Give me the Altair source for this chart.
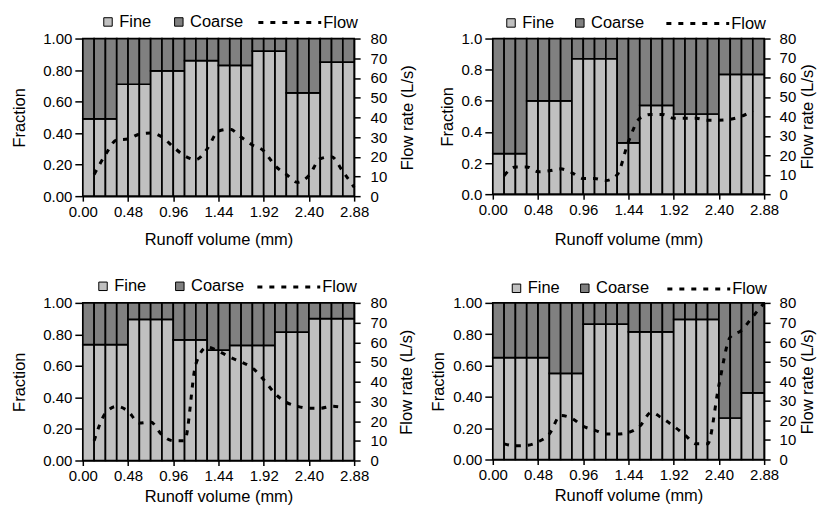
import altair as alt
import pandas as pd

# Bar edges along runoff volume (mm): 24 equal intervals
EDGES = [0.00, 0.12, 0.24, 0.36, 0.48, 0.60, 0.72, 0.84, 0.96, 1.08, 1.20, 1.32,
         1.44, 1.56, 1.68, 1.80, 1.92, 2.04, 2.16, 2.28, 2.40, 2.52, 2.64, 2.76, 2.88]
X_TICKS = [0.00, 0.48, 0.96, 1.44, 1.92, 2.40, 2.88]
FRAC_TICKS = [0.0, 0.2, 0.4, 0.6, 0.8, 1.0]
FLOW_TICKS = [0, 10, 20, 30, 40, 50, 60, 70, 80]
PARTS = ["Fine", "Coarse"]
PART_COLORS = ["#c0c0c0", "#808080"]

# Fine fraction of each bar (coarse = 1 - fine)
FINE_1 = [0.49, 0.49, 0.49, 0.71, 0.71, 0.71, 0.795, 0.795, 0.795, 0.86, 0.86, 0.86,
          0.83, 0.83, 0.83, 0.92, 0.92, 0.92, 0.655, 0.655, 0.655, 0.85, 0.85, 0.85]
FINE_2 = [0.26, 0.26, 0.26, 0.60, 0.60, 0.60, 0.60, 0.87, 0.87, 0.87, 0.87, 0.33,
          0.33, 0.57, 0.57, 0.57, 0.515, 0.515, 0.515, 0.515, 0.77, 0.77, 0.77, 0.77]
FINE_3 = [0.735, 0.735, 0.735, 0.735, 0.895, 0.895, 0.895, 0.895, 0.765, 0.765, 0.765, 0.70,
          0.70, 0.73, 0.73, 0.73, 0.73, 0.815, 0.815, 0.815, 0.90, 0.90, 0.90, 0.90]
FINE_4 = [0.65, 0.65, 0.65, 0.65, 0.65, 0.55, 0.55, 0.55, 0.865, 0.865, 0.865, 0.865,
          0.815, 0.815, 0.815, 0.815, 0.895, 0.895, 0.895, 0.895, 0.265, 0.265, 0.425, 0.425]

# Flow rate (L/s) at the right edge of each bar
FLOW_1 = [11, 21, 28.5, 29, 31.5, 32, 30, 25, 20.5, 18.5, 24, 33,
          34, 30, 26, 23, 15.5, 11, 7, 10.5, 19, 20, 12.5, 4.5]
FLOW_2 = [9.5, 14, 14, 11.5, 12, 13, 11, 8, 8, 7, 10, 27,
          39, 41, 41, 39, 39, 39, 38, 38, 38.5, 40, 43]
FLOW_3 = [10, 24, 27.5, 25, 19, 19.5, 13, 10, 10, 49, 57.5, 55.5,
          52.5, 50, 47, 41, 34, 29.5, 27.5, 26.5, 26.5, 27.5, 27]
FLOW_4 = [8, 7, 7.2, 9, 13, 22.5, 21, 17, 15, 13, 13, 13.8,
          17, 24, 21, 17, 12.5, 8, 8, 38, 62.5, 66, 73, 80]

FONT = "Liberation Sans"


def panel(fine, flow, frac_fmt, h, lpad, rpad, rlab, xpad, lx, ly, fx, cpad):
    rows = []
    for i, f in enumerate(fine):
        rows.append({"x0": EDGES[i], "x1": EDGES[i + 1], "y0": 0.0, "y1": f, "part": "Fine"})
        rows.append({"x0": EDGES[i], "x1": EDGES[i + 1], "y0": f, "y1": 1.0, "part": "Coarse"})
    bars_df = pd.DataFrame(rows)
    flow_df = pd.DataFrame({"x": EDGES[1:1 + len(flow)], "q": flow, "s": "Flow"})
    xscale = alt.Scale(domain=[0, 2.88], nice=False, zero=False)
    xaxis = alt.Axis(values=X_TICKS, format=".2f", title="Runoff volume (mm)",
                     titlePadding=xpad, labelOverlap=False, labelFlush=False,
                     tickSize=5, labelPadding=3)

    bars = alt.Chart(bars_df).mark_rect(stroke="black", strokeWidth=1.7).encode(
        x=alt.X("x0:Q", scale=xscale, axis=xaxis),
        x2="x1:Q",
        y=alt.Y("y0:Q", scale=alt.Scale(domain=[0, 1], nice=False),
                axis=alt.Axis(values=FRAC_TICKS, format=frac_fmt, title="Fraction",
                              orient="left", titlePadding=lpad, tickSize=8,
                              labelPadding=3, labelOverlap=False, labelFlush=False)),
        y2="y1:Q",
        color=alt.Color("part:N", scale=alt.Scale(domain=PARTS, range=PART_COLORS),
                        legend=alt.Legend(title=None, orient="none", legendX=lx, legendY=ly,
                                          direction="horizontal", symbolType="square",
                                          symbolSize=72, symbolStrokeColor="black",
                                          symbolStrokeWidth=1, symbolOpacity=1,
                                          labelFontSize=16.5, labelFont=FONT,
                                          labelColor="black", labelOffset=3,
                                          columnPadding=cpad)),
    )
    line = alt.Chart(flow_df).mark_line(color="black", strokeWidth=3,
                                        interpolate="monotone").encode(
        x=alt.X("x:Q", scale=xscale, axis=xaxis),
        y=alt.Y("q:Q", scale=alt.Scale(domain=[0, 80], nice=False),
                axis=alt.Axis(values=FLOW_TICKS, orient="right", title="Flow rate (L/s)",
                              titleAngle=270, titleBaseline="top", titlePadding=rpad,
                              tickSize=6, labelPadding=rlab, labelOverlap=False,
                              labelFlush=False)),
        strokeDash=alt.StrokeDash("s:N", scale=alt.Scale(domain=["Flow"], range=[[5, 7]]),
                                  legend=alt.Legend(title=None, orient="none", legendX=fx,
                                                    legendY=ly, symbolType="M0,0H8.4",
                                                    symbolSize=225, symbolStrokeWidth=3,
                                                    symbolStrokeColor="black",
                                                    symbolFillColor="transparent",
                                                    symbolDash=[5, 9],
                                                    labelFontSize=16.5, labelFont=FONT,
                                                    labelColor="black", labelOffset=56)),
    )
    return alt.layer(bars, line).resolve_scale(y="independent").properties(width=272, height=h)


#            fine    flow    fmt   h    lp   rp  rl  xp  lx    ly   fx   cp
p1 = panel(FINE_1, FLOW_1, ".2f", 158, 15.5, 13, 10, 12, 17, -25, 167, 19)
p2 = panel(FINE_2, FLOW_2, ".1f", 156, 6, 4, 9, 14, 10, -24, 165, 17)
p3 = panel(FINE_3, FLOW_3, ".2f", 158, 15.5, 12, 10, 5, 12, -25, 166, 25)
p4 = panel(FINE_4, FLOW_4, ".2f", 157, 6, 4, 9, 5, 15.5, -23, 166, 16.5)

chart = alt.concat(p1, p2, p3, p4, columns=2, spacing={"row": 107, "column": 139},
                   bounds="flush").resolve_scale(
    color="independent", strokeDash="independent").resolve_legend(
    color="independent", strokeDash="independent").configure_view(
    stroke=None).configure_axis(
    grid=False, domainColor="black", domainWidth=1.5, tickColor="black", tickWidth=1.5,
    labelColor="black", titleColor="black", labelFont=FONT, titleFont=FONT,
    labelFontSize=15, titleFontSize=16.5, titleFontWeight="normal"
).configure_legend(labelColor="black").properties(
    padding={"left": 3, "top": 5, "right": 0, "bottom": 0})

chart.save("out.html", embed_options={"renderer": "svg", "actions": False})
